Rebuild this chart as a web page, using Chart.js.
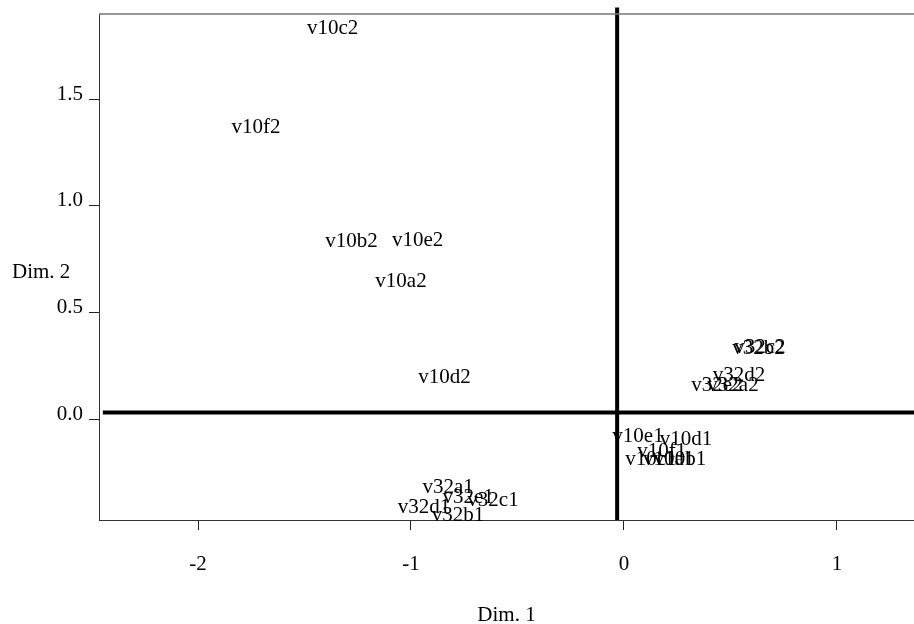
<!DOCTYPE html>
<html><head><meta charset="utf-8">
<script src="https://cdn.jsdelivr.net/npm/chart.js@4"></script>
<style>html,body{margin:0;padding:0;background:#fff}#wrap{width:914px;height:624px;position:relative}</style>
</head><body><div id="wrap"><canvas id="c"></canvas></div>
<script>
const categories = ['v10a2','v10b2','v10c2','v10d2','v10e2','v10f2',
  'v10a1','v10b1','v10c1','v10d1','v10e1','v10f1',
  'v32a2','v32b2','v32c2','v32d2','v32e2',
  'v32a1','v32b1','v32c1','v32d1','v32e1'];
const dim1Values = [-1.047,-1.279,-1.368,-0.843,-0.969,-1.728,
  0.210,0.263,0.127,0.291,0.066,0.178,
  0.512,0.632,0.638,0.540,0.437,
  -0.826,-0.779,-0.615,-0.939,-0.732];
const dim2Values = [0.647,0.834,1.832,0.197,0.839,1.369,
  -0.188,-0.192,-0.192,-0.094,-0.080,-0.150,
  0.155,0.333,0.335,0.202,0.155,
  -0.323,-0.450,-0.380,-0.417,-0.366];
const xTickValues = [-2,-1,0,1];
const xTickLabels = ['-2','-1','0','1'];
const yTickValues = [0,0.5,1,1.5];
const yTickLabels = ['0.0','0.5','1.0','1.5'];
const xAxisTitle = 'Dim. 1';
const yAxisTitle = 'Dim. 2';
const xRange = [-2.465, 1.362];
const yRange = [-0.4735, 1.899];
const refLineX = -0.032;
const refLineY = 0.031;
const refVLineTop = 1.930;
const refHLineLeft = -2.447;

const FONT = '"Liberation Serif", "Times New Roman", serif';
const FSIZE = 21;

const labelPlugin = {
  id: 'labelPlugin',
  afterDatasetsDraw(chart) {
    const ctx = chart.ctx;
    const area = chart.chartArea;
    ctx.save();
    ctx.strokeStyle = '#777';
    ctx.lineWidth = 1.5;
    ctx.beginPath();
    ctx.moveTo(area.left, area.top);
    ctx.lineTo(area.right, area.top);
    ctx.stroke();
    ctx.fillStyle = '#000';
    ctx.font = FSIZE + 'px ' + FONT;
    ctx.textAlign = 'center';
    ctx.textBaseline = 'middle';
    const meta = chart.getDatasetMeta(0);
    meta.data.forEach((el, i) => {
      ctx.fillText(categories[i], el.x, el.y);
    });
    ctx.textBaseline = 'alphabetic';
    ctx.textAlign = 'center';
    ctx.fillText(xAxisTitle, (area.left + area.right) / 2, 621);
    ctx.textAlign = 'left';
    ctx.fillText(yAxisTitle, 12, 278);
    ctx.restore();
  }
};

function zeroPad(s) { s.paddingTop = 0; s.paddingBottom = 0; s.paddingLeft = 0; s.paddingRight = 0; }

new Chart(document.getElementById('c'), {
  type: 'scatter',
  data: {
    datasets: [
      {
        data: categories.map((c, i) => ({x: dim1Values[i], y: dim2Values[i]})),
        pointRadius: 0,
        showLine: false
      },
      {
        data: [{x: refLineX, y: yRange[0]}, {x: refLineX, y: refVLineTop}],
        showLine: true, borderColor: '#000', borderWidth: 4, pointRadius: 0, clip: false
      },
      {
        data: [{x: refHLineLeft, y: refLineY}, {x: xRange[1], y: refLineY}],
        showLine: true, borderColor: '#000', borderWidth: 4, pointRadius: 0, clip: false
      }
    ]
  },
  options: {
    responsive: true,
    maintainAspectRatio: false,
    animation: false,
    layout: {padding: {top: 14, right: 0, bottom: 0, left: 0}},
    plugins: {legend: {display: false}, tooltip: {enabled: false}},
    scales: {
      x: {
        type: 'linear', min: xRange[0], max: xRange[1],
        afterBuildTicks: s => { s.ticks = xTickValues.map(v => ({value: v})); },
        afterFit: s => { s.height = 104; zeroPad(s); },
        ticks: {
          callback: v => xTickLabels[xTickValues.indexOf(v)],
          font: {family: FONT, size: FSIZE}, color: '#000', padding: 22,
          maxRotation: 0, autoSkip: false
        },
        grid: {drawOnChartArea: false, drawTicks: true, tickLength: 10, color: '#222'},
        border: {display: true, color: '#333', width: 1}
      },
      y: {
        type: 'linear', min: yRange[0], max: yRange[1],
        afterBuildTicks: s => { s.ticks = yTickValues.map(v => ({value: v})); },
        afterFit: s => { s.width = 99; zeroPad(s); },
        ticks: {
          callback: v => yTickLabels[yTickValues.indexOf(v)],
          font: {family: FONT, size: FSIZE}, color: '#000', padding: 6,
          labelOffset: -5, autoSkip: false
        },
        grid: {drawOnChartArea: false, drawTicks: true, tickLength: 10, color: '#222'},
        border: {display: true, color: '#333', width: 1}
      }
    }
  },
  plugins: [labelPlugin]
});
</script>
</body></html>
